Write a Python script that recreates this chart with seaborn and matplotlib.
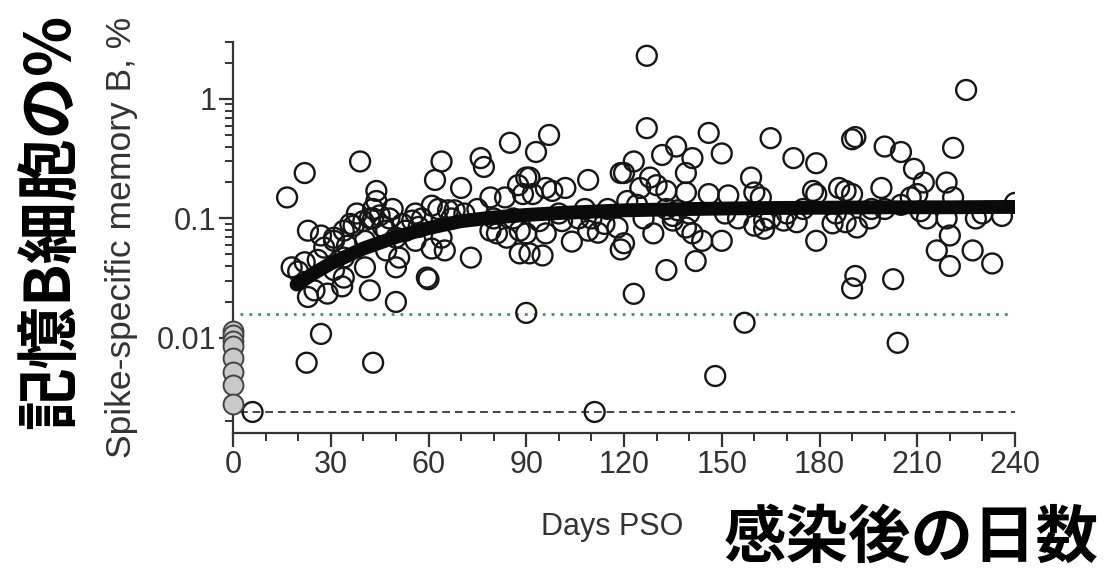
import matplotlib
matplotlib.use("Agg")
import matplotlib.pyplot as plt
import matplotlib.ticker as mticker
import seaborn as sns
import pandas as pd

# ---------------- data ----------------
days = [
    6, 16.6, 18, 20, 22, 22, 22.6, 23, 23, 25, 26, 27, 27, 28, 29, 31, 31, 31, 33.5, 34, 34, 34,
    35, 36, 37, 38, 39, 40, 40.5, 40.5, 42, 42, 43, 43, 43, 44, 44, 45, 46, 47, 47, 48, 49, 50,
    50, 50, 51, 52, 53, 55, 56, 56, 58, 59.5, 60, 61, 61, 62, 63, 64, 64, 65, 66, 68, 70, 71, 73,
    75, 76, 77, 79, 79, 80, 81, 83.5, 84, 85, 86, 87.5, 88, 88, 89, 90, 90, 90, 91, 91, 92, 93,
    94, 95, 96, 96, 97, 98, 100, 102, 104, 106, 108, 109, 109, 110, 111, 112, 115, 118, 119, 119,
    120, 120, 121, 123, 123, 125, 126, 127, 127, 128, 129, 130, 131.7,
    133, 133, 133, 135, 136, 136.5, 139, 139, 139, 140, 141, 141, 142, 144, 146, 146, 148, 150,
    150, 152, 155, 157, 159, 160, 160, 162, 163, 163, 165, 165, 169, 170, 172, 173, 178, 179, 179,
    179, 184, 185, 186, 188, 188, 190, 190, 191, 190, 191, 191.5, 195.5, 196, 199, 200, 200,
    202.6, 204, 205, 205, 208, 209, 210, 212, 213, 216, 219, 219, 220, 220, 221, 221, 225, 227,
    228, 230, 233, 240,
    101, 114, 135, 151, 175, 211, 236, 57, 67, 124,
]
memory_b = [
    0.0024, 0.15, 0.039, 0.036, 0.24, 0.043, 0.0062, 0.079, 0.022, 0.025, 0.045, 0.072, 0.0108,
    0.057, 0.0235, 0.069, 0.065, 0.037, 0.027, 0.079, 0.032, 0.047, 0.059, 0.09, 0.087, 0.11,
    0.30, 0.095, 0.065, 0.039, 0.10, 0.025, 0.12, 0.10, 0.0062, 0.17, 0.14, 0.106, 0.085, 0.079,
    0.054, 0.10, 0.12, 0.069, 0.039, 0.02, 0.047, 0.09, 0.079, 0.096, 0.11, 0.065, 0.10, 0.032,
    0.031, 0.128, 0.056, 0.21, 0.12, 0.30, 0.069, 0.054, 0.117, 0.117, 0.18, 0.11, 0.047,
    0.12, 0.32, 0.27, 0.15, 0.079, 0.10, 0.075, 0.15, 0.069, 0.43, 0.10, 0.19, 0.079, 0.051,
    0.16, 0.22, 0.075, 0.0162, 0.22, 0.051, 0.16, 0.36, 0.095, 0.049, 0.18, 0.075, 0.5, 0.17,
    0.11, 0.18, 0.064, 0.10, 0.12, 0.21, 0.079, 0.10, 0.0024, 0.076, 0.12, 0.084, 0.24, 0.055,
    0.24, 0.062, 0.14, 0.30, 0.0234, 0.18, 0.10, 2.3, 0.57, 0.22, 0.075, 0.19, 0.34,
    0.17, 0.12, 0.037, 0.096, 0.40, 0.117, 0.24, 0.165, 0.084, 0.11, 0.32, 0.075, 0.044, 0.065,
    0.52, 0.16, 0.0048, 0.35, 0.065, 0.156, 0.10, 0.0134, 0.22, 0.165, 0.087, 0.15, 0.082, 0.096,
    0.47, 0.10, 0.096, 0.11, 0.32, 0.093, 0.17, 0.29, 0.16, 0.065, 0.091, 0.11, 0.18, 0.17,
    0.093, 0.16, 0.46, 0.48, 0.026, 0.033, 0.084, 0.10, 0.12, 0.18, 0.40, 0.12, 0.031, 0.0091,
    0.36, 0.13, 0.15, 0.26, 0.16, 0.20, 0.10, 0.054, 0.20, 0.10, 0.072, 0.040, 0.39, 0.15, 1.19,
    0.054, 0.10, 0.11, 0.042, 0.135,
    0.095, 0.09, 0.105, 0.11, 0.12, 0.115, 0.105, 0.085, 0.10, 0.13,
]

# baseline (day 0) samples shown as grey filled circles
baseline_days = [0, 0, 0, 0, 0, 0, 0, 0]
baseline_vals = [0.0115, 0.0105, 0.0095, 0.0085, 0.0068, 0.0052, 0.0040, 0.0028]

# fitted curve
fit_days = [19.5, 25, 30, 40, 50, 60, 70, 80, 90, 100, 120, 140, 160, 180, 200, 220, 240]
fit_vals = [0.028, 0.035, 0.042, 0.056, 0.070, 0.083, 0.095, 0.102, 0.107, 0.111, 0.117,
            0.120, 0.122, 0.123, 0.124, 0.124, 0.125]

threshold_green = 0.016   # dotted green line
lod_black = 0.0024        # dashed black line

xticks = [0, 30, 60, 90, 120, 150, 180, 210, 240]
yticks = [0.01, 0.1, 1]
ytick_labels = ["0.01", "0.1", "1"]

df = pd.DataFrame({"day": days, "val": memory_b})
df0 = pd.DataFrame({"day": baseline_days, "val": baseline_vals})
dfit = pd.DataFrame({"day": fit_days, "val": fit_vals})

# ---------------- style ----------------
sns.set_theme(style="ticks")
plt.rcParams["font.family"] = ["Liberation Sans", "DejaVu Sans"]

W, H = 1112, 577
fig = plt.figure(figsize=(W / 100, H / 100), dpi=100)
ax = fig.add_axes([233 / W, 1 - 433 / H, (1015 - 233) / W, (433 - 42) / H])

grey = "#333333"

ax.set_yscale("log")
ax.set_xlim(0, 240)
ax.set_ylim(0.0016, 3.0)

# reference lines
ax.hlines(threshold_green, 2, 238.5, colors="#3f9a55", linestyles=(0, (1, 2.2)), linewidth=2.0, zorder=1)
ax.hlines(lod_black, 2, 240, colors="#444444", linestyles=(0, (4, 2.5)), linewidth=1.4, zorder=1)

# data points
sns.scatterplot(data=df, x="day", y="val", ax=ax, marker="o", s=205,
                facecolors="none", edgecolor="#161616", linewidth=1.7, zorder=3,
                legend=False)
sns.scatterplot(data=df0, x="day", y="val", ax=ax, marker="o", s=205,
                color="#c9c9c9", edgecolor="#444444", linewidth=1.4, zorder=4,
                legend=False, clip_on=False)

# fit curve
sns.lineplot(data=dfit, x="day", y="val", ax=ax, color="#0a0a0a", linewidth=10,
             solid_capstyle="round", zorder=5, legend=False)

# axes styling
for s in ["top", "right"]:
    ax.spines[s].set_visible(False)
for s in ["left", "bottom"]:
    ax.spines[s].set_color(grey)
    ax.spines[s].set_linewidth(1.6)

ax.set_xticks(xticks)
ax.set_xticklabels([str(x) for x in xticks])
ax.xaxis.set_minor_locator(mticker.MultipleLocator(10))
ax.yaxis.set_major_locator(mticker.FixedLocator(yticks))
ax.yaxis.set_major_formatter(mticker.FixedFormatter(ytick_labels))
ax.yaxis.set_minor_locator(mticker.LogLocator(base=10, subs=range(2, 10), numticks=20))
ax.yaxis.set_minor_formatter(mticker.NullFormatter())

ax.tick_params(axis="both", which="major", length=10, width=1.6, color=grey,
               labelsize=22, labelcolor=grey, pad=2)
ax.tick_params(axis="both", which="minor", length=5.5, width=1.4, color=grey)
ax.set_xlabel("")
ax.set_ylabel("")

# axis titles
fig.text(612 / W, 1 - 527 / H, "Days PSO", ha="center", va="center", fontsize=22, color=grey)
fig.text(121 / W, 1 - 237 / H, "Spike-specific memory B, %", ha="center", va="center",
         rotation=90, fontsize=25.5, color=grey)

# Japanese overlay captions
jp = ["Noto Sans CJK JP", "DejaVu Sans"]
fig.text(51 / W, 1 - 221 / H, "記憶B細胞の%", ha="center", va="center", rotation=90,
         fontsize=45, fontweight="bold", family=jp, color="black")
fig.text(911 / W, 1 - 538 / H, "感染後の日数", ha="center", va="center",
         fontsize=45, fontweight="bold", family=jp, color="black")

fig.savefig("out.png", dpi=100)
